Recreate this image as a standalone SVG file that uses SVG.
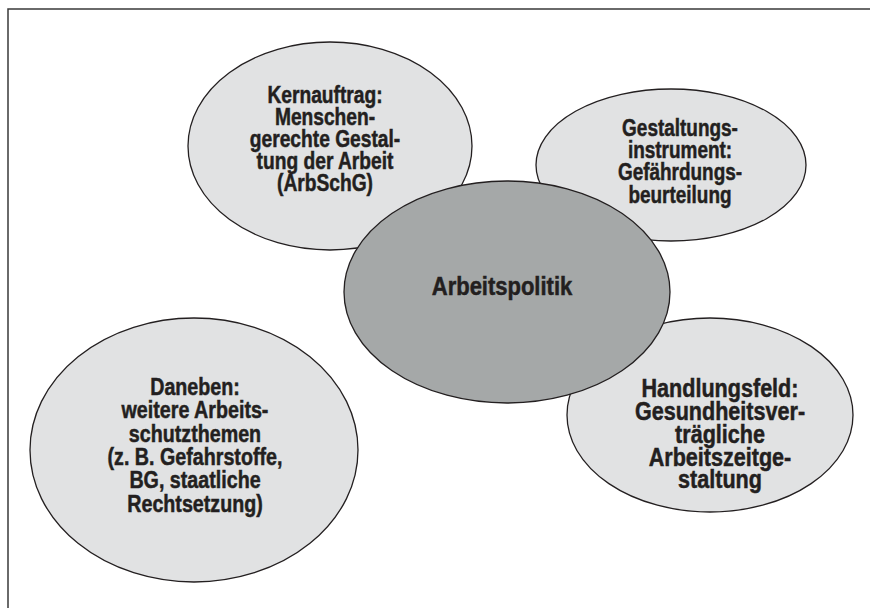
<svg xmlns="http://www.w3.org/2000/svg" width="870" height="608" viewBox="0 0 870 608">
<style>
.frame{fill:none;stroke:#3a3a3a;stroke-width:1.5}
.light{fill:#e1e2e3;stroke:#231f20;stroke-width:1.3}
.core{fill:#a5a8a8;stroke:#231f20;stroke-width:1.3}
text{font-family:"Liberation Sans",Arial,sans-serif;font-weight:bold;font-size:24px;fill:#231f20;stroke:#231f20;stroke-width:0.5;text-anchor:middle}
.big{font-size:26px}
.center{font-size:25px}
</style>
<rect width="870" height="608" fill="#ffffff"/>
<path class="frame" d="M8,608 V9 H870"/>
<g id="connectors"></g>
<g id="kernauftrag">
<ellipse class="light" cx="330" cy="146" rx="142" ry="104"/>
<g transform="translate(325,0) scale(0.8,1)">
<text x="0" y="103">Kernauftrag:</text>
<text x="0" y="125">Menschen-</text>
<text x="0" y="147">gerechte Gestal-</text>
<text x="0" y="169">tung der Arbeit</text>
<text x="0" y="191">(ArbSchG)</text>
</g>
</g>
<g id="gestaltungsinstrument">
<ellipse class="light" cx="671" cy="165" rx="135" ry="76"/>
<g transform="translate(680,0) scale(0.79,1)">
<text x="0" y="136">Gestaltungs-</text>
<text x="0" y="158">instrument:</text>
<text x="0" y="180">Gefährdungs-</text>
<text x="0" y="203">beurteilung</text>
</g>
</g>
<g id="daneben">
<ellipse class="light" cx="194" cy="450" rx="164" ry="132"/>
<g transform="translate(195,0) scale(0.82,1)">
<text x="0" y="395">Daneben:</text>
<text x="0" y="418">weitere Arbeits-</text>
<text x="0" y="442">schutzthemen</text>
<text x="0" y="465">(z. B. Gefahrstoffe,</text>
<text x="0" y="488">BG, staatliche</text>
<text x="0" y="512">Rechtsetzung)</text>
</g>
</g>
<g id="handlungsfeld">
<ellipse class="light" cx="710" cy="415" rx="143" ry="97"/>
<g transform="translate(720,0) scale(0.83,1)">
<text class="big" x="0" y="397">Handlungsfeld:</text>
<text class="big" x="0" y="420">Gesundheitsver-</text>
<text class="big" x="0" y="443">trägliche</text>
<text class="big" x="0" y="466">Arbeitszeitge-</text>
<text class="big" x="0" y="488">staltung</text>
</g>
</g>
<g id="arbeitspolitik">
<ellipse class="core" cx="507" cy="292" rx="163" ry="111"/>
<g transform="translate(502,0) scale(0.88,1)">
<text class="center" x="0" y="295">Arbeitspolitik</text>
</g>
</g>
</svg>
